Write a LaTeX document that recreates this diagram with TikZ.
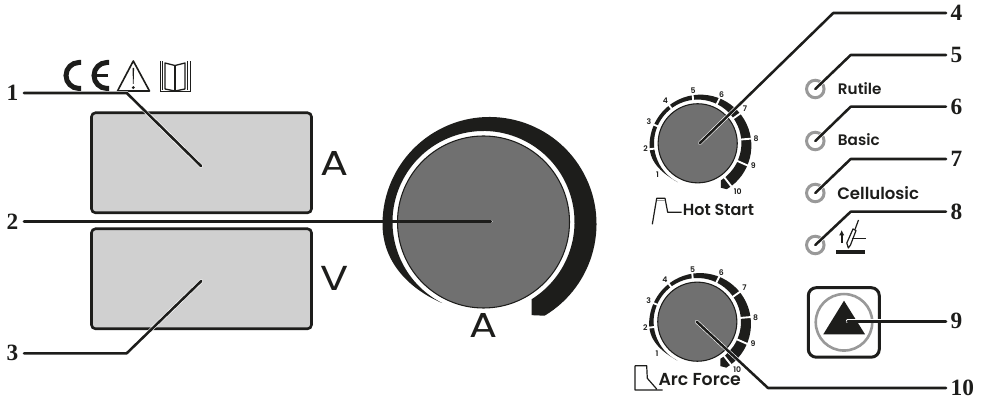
\documentclass[tikz,border=0pt]{standalone}
\usepackage{fontspec}
\usetikzlibrary{arrows.meta}
\setmainfont{Poppins}
\newfontfamily\labfont{Poppins SemiBold}
\newfontfamily\numfont{Liberation Serif}
\definecolor{ink}{HTML}{1D1D1B}
\definecolor{knobgray}{HTML}{707070}
\definecolor{dispgray}{HTML}{D0D0D0}
\definecolor{ledgray}{HTML}{999999}
\tikzset{
  px/.style={line width=#1*0.75pt},
  num/.style={font=\numfont\bfseries\fontsize{17.5}{17.5}\selectfont,text=ink,inner sep=1pt},
  leader/.style={draw=white,line width=0.45pt,double=ink,double distance=1.9pt,line cap=round,line join=round},
  disp/.style={draw=ink,fill=dispgray,px=2.6,rounded corners=3pt,outer sep=0pt,inner sep=0pt,anchor=north west},
  unit/.style={font=\fontsize{26}{26}\selectfont,text=ink,inner sep=0pt,xscale=1.2,transform shape},
  lab/.style={text=ink,inner sep=0pt,anchor=west},
  scalenum/.style={font=\labfont\fontsize{5.8}{6}\selectfont,text=ink,inner sep=0pt},
  led/.style={draw=ledgray,px=3,fill=none,circle,minimum size=17.5*0.75pt,inner sep=0pt,outer sep=0pt},
  sym/.style={draw=ink,px=1.2,line join=round},
}
% #1 centre, #2 scale, #3 gap angles, #4 outer radius, #5 outer centre dy, #6 inner radius
\newcommand{\knobdraw}[6]{%
  \begin{scope}[shift={(#1)},x=1pt,y=1pt,scale=#2]
    \fill[ink] (-59:#4pt) ++(6pt,#5pt)
      arc[start angle=-59,end angle=180,radius=#4pt]
      .. controls +(0pt,-40pt) and (-72pt,-68pt) .. (243:#6pt)
      arc[start angle=243,end angle=-58,radius=#6pt]
      -- ++(0pt,-16pt) -- cycle;
    \foreach \a in {#3} {\draw[white,line width=1.4pt] (\a:80pt) -- (\a:130pt);}
    \fill[white] (0,0) circle[radius=88pt];
    \filldraw[fill=knobgray,draw=ink,line width=0.8pt] (0,0) circle[radius=86pt];
  \end{scope}}
\begin{document}
\begin{tikzpicture}[x=0.75pt,y=-0.75pt]
\useasboundingbox (0,0) rectangle (983,398);
\fill[white] (0,0) rectangle (983,398);

% displays
\node[disp,minimum width=220*0.75pt,minimum height=100*0.75pt] (dispA) at (91.5,112.8) {};
\node[disp,minimum width=220*0.75pt,minimum height=100*0.75pt] (dispV) at (91.5,228.8) {};
\node[unit] (unitA) at (335,163.3) {A};
\node[unit] (unitV) at (335,278.2) {V};

% CE
\draw[ink,px=5] (81,62.5) -- (79,62.5) arc[start angle=90,end angle=270,radius=9.75pt] -- (81,88.5);
\draw[ink,px=5] (109,62.5) -- (107,62.5) arc[start angle=90,end angle=270,radius=9.75pt] -- (109,88.5);
\draw[ink,px=3.5] (94,75.5) -- (108,75.5);
% warning triangle
\draw[ink,px=1.6,line join=round] (133.3,61) -- (117.5,91) -- (149.5,91) -- cycle;
\fill[ink] (132.5,68) -- (134.1,68) -- (133.6,84) -- (133,84) -- cycle;
\fill[ink] (133.3,87.6) circle[radius=1.2pt];
% book
\draw[ink,px=1.3,line join=round] (165,63) -- (175,65.5) -- (185,63) -- (185,89) -- (175,91) -- (165,89) -- cycle;
\draw[ink,px=1.3] (175,65.5) -- (175,91);
\draw[ink,px=1] (162.5,61.5) -- (162.5,90.5) (160,61) -- (160,91.5) -- (175,91.5) -- (190,91.5) -- (190,61) (187.5,61.5) -- (187.5,90.5);

% main knob
\knobdraw{483.5,222}{0.75}{}{107}{-2}{91}
\node[unit] (unitM) at (483.3,325) {A};

% dials
\knobdraw{697.7,143.3}{0.345}{187,157,127,96,64,35,5,-24,-52}{110.7}{-5}{95}
\knobdraw{697.3,321.7}{0.345}{187,157,127,96,64,35,5,-24,-52}{110.7}{-5}{95}
\foreach \cx/\cy/\d in {697.7/143.3/a,697.3/321.7/b}{
  \foreach \n/\dx/\dy in {1/-40.3/31.7,2/-52/5.7,3/-48.7/-21.3,4/-32.3/-42.3,5/-4.7/-52.3,6/24/-49,7/47.3/-34.3,8/58.3/-4.3,9/55.7/22.3,10/40/48.3}{
    \node[scalenum] (\d\n) at (\cx+\dx,\cy+\dy) {\n};
  }
}

% hot start symbol and label
\draw[sym] (652.3,224.3) -- (656.7,198.3) -- (665,198.3) -- (667.7,212.3) -- (681.7,212.3);
\draw[ledgray,px=1] (657,201) -- (664.5,201);
\node[lab,font=\labfont\fontsize{12}{12}\selectfont] (hot) at (682.7,210) {Hot Start};
% arc force symbol and label
\draw[sym] (635,365.7) -- (635,390) -- (662.7,390) (635,365.7) -- (646.7,365.7) -- (647.3,378.3) -- (656.7,389);
\node[lab,font=\labfont\fontsize{13}{13}\selectfont] (arc) at (658.3,380) {Arc Force};

% process LEDs
\node[led] (led5) at (815.3,89) {};
\node[led] (led6) at (815.3,141) {};
\node[led] (led7) at (815.3,193) {};
\node[led] (led8) at (815.3,245) {};
\node[lab,font=\labfont\fontsize{11.4}{12}\selectfont] (rutile) at (837.7,88.3) {Rutile};
\node[lab,font=\labfont\fontsize{11.4}{12}\selectfont] (basic) at (837.7,140) {Basic};
\node[lab,font=\labfont\fontsize{12.4}{12}\selectfont] (cellu) at (837,192.7) {Cellulosic};

% lift-arc symbol
\draw[ink,px=1.8,-{Latex[length=4pt,width=4pt]}] (841.7,243) -- (841.7,230);
\fill[ink] (835.7,250) rectangle (865,254.3);
\draw[sym] (848.3,248) -- (846.8,243) -- (853,229) -- (856,230.5) -- (850.5,245) -- cycle;
\draw[sym] (855,229.5) -- (858.5,220);
\draw[ink,px=1.5] (851.7,238.3) -- (866,238.3);

% button
\node[draw=ink,px=3,rounded corners=6pt,minimum width=71*0.75pt,minimum height=69.5*0.75pt,inner sep=0pt,outer sep=0pt,anchor=north west] (btn) at (808.3,287.7) {};
\node[draw=ledgray,px=2.6,circle,minimum size=56.5*0.75pt,inner sep=0pt,outer sep=0pt] (btnring) at (844,322.3) {};
\fill[ink] (844,300.7) -- (865,334.3) -- (823.3,334.3) -- cycle;

% leaders
\node[num,anchor=east] (n1) at (20,93) {1};
\node[num,anchor=east] (n2) at (20,221.5) {2};
\node[num,anchor=east] (n3) at (20,353.3) {3};
\node[num,anchor=west] (n4) at (949,13) {4};
\node[num,anchor=west] (n5) at (949,55) {5};
\node[num,anchor=west] (n6) at (949,106.7) {6};
\node[num,anchor=west] (n7) at (949,159) {7};
\node[num,anchor=west] (n8) at (949,211.7) {8};
\node[num,anchor=west] (n9) at (949,321.3) {9};
\node[num,anchor=west] (n10) at (949,388) {10};

\coordinate (e1) at (24,93); \coordinate (e2) at (24,221.5); \coordinate (e3) at (24,353.3);
\coordinate (t1) at (201,166);  \coordinate (b1) at (126.7,93);
\coordinate (t2) at (491,221.5);
\coordinate (t3) at (201.3,281);  \coordinate (b3) at (126.7,353.3);
\coordinate (t4) at (700,143);  \coordinate (b4) at (833.3,13);
\coordinate (b5) at (850.7,55);
\coordinate (b6) at (850.7,106.7);
\coordinate (b7) at (850.7,159);
\coordinate (b8) at (850.7,211.7);
\coordinate (t9) at (847.7,321.3);
\coordinate (t10) at (696.7,321.7); \coordinate (b10) at (768,388);

\draw[leader] (e1) -- (b1) -- (t1);
\draw[leader] (e2) -- (t2);
\draw[leader] (e3) -- (b3) -- (t3);
\draw[leader] ([xshift=-2.25pt]n4.west) -- (b4) -- (t4);
\draw[leader] ([xshift=-2.25pt]n5.west) -- (b5) -- (led5.center);
\draw[leader] ([xshift=-2.25pt]n6.west) -- (b6) -- (led6.center);
\draw[leader] ([xshift=-2.25pt]n7.west) -- (b7) -- (led7.center);
\draw[leader] ([xshift=-2.25pt]n8.west) -- (b8) -- (led8.center);
\draw[leader] ([xshift=-2.25pt]n9.west) -- (t9);
\draw[leader] ([xshift=-2.25pt]n10.west) -- (b10) -- (t10);
\end{tikzpicture}
\end{document}
